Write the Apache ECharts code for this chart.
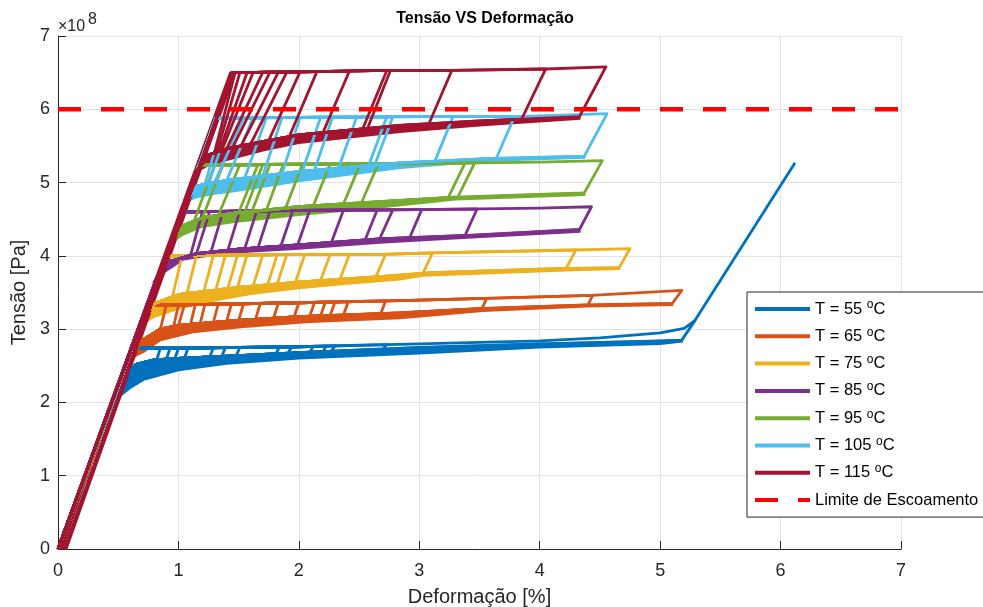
<!DOCTYPE html>
<html><head><meta charset="utf-8">
<script src="https://cdn.jsdelivr.net/npm/echarts@6/dist/echarts.min.js"></script>
<style>html,body{margin:0;padding:0;background:#fff}#c{width:983px;height:607px}</style>
</head><body><div id="c"></div>
<script>
// ---- data (strain in %, stress in 1e8 Pa) ----
const tempLabels = ['T = 55 °C','T = 65 °C','T = 75 °C','T = 85 °C','T = 95 °C','T = 105 °C','T = 115 °C'];
const yieldLabel = 'Limite de Escoamento';
const yieldLine = [[0, 6], [7, 6]];
const unloadEnd = [0.06, 0];

const bandTop55 = [[0.47,2.03],[0.55,2.35],[0.65,2.52],[0.8,2.58],[1.0,2.6],[1.5,2.64],[2.0,2.68],[3.0,2.75],[4.0,2.8],[5.0,2.84],[5.18,2.85]];
const bandBottom55 = [[0.47,2.03],[0.6,2.2],[0.71,2.31],[1.0,2.44],[1.4,2.53],[2.0,2.6],[3.0,2.67],[4.0,2.75],[5.0,2.8],[5.18,2.83]];
const upper55 = [[0.61,2.74],[1.0,2.74],[2.0,2.76],[3.0,2.8],[4.0,2.84],[4.5,2.88],[5.0,2.95],[5.2,3.01],[5.29,3.12]];
const cycles55 = [[0.82,0.85],[0.9,0.93],[0.97,1.0],[1.05,1.08],[1.26,1.29],[1.36,1.39],[1.48,1.51],[1.81,1.84],[1.91,1.94],[2.09,2.12],[2.2,2.23],[2.27,2.3],[2.7,2.73],[5.18,5.29]];
const tail55 = [[5.29,3.12],[6.12,5.27]];

const bandTop65 = [[0.6,2.6],[0.7,2.85],[0.85,3.0],[1.0,3.05],[1.5,3.12],[2.0,3.17],[2.84,3.22],[3.5,3.28],[4.4,3.33],[5.1,3.35]];
const bandBottom65 = [[0.6,2.6],[0.71,2.69],[0.85,2.85],[1.12,2.96],[1.54,3.03],[2.09,3.1],[2.84,3.15],[3.53,3.25],[4.39,3.31],[5.1,3.33]];
const upper65 = [[0.74,3.33],[1.0,3.33],[2.0,3.36],[2.84,3.39],[3.55,3.42],[4.43,3.46],[5.18,3.53]];
const cycles65 = [[0.86,0.9],[0.96,1.0],[1.01,1.05],[1.1,1.14],[1.18,1.22],[1.29,1.33],[1.4,1.44],[1.5,1.54],[1.64,1.68],[1.79,1.83],[1.96,2.0],[2.09,2.13],[2.18,2.22],[2.26,2.3],[2.37,2.41],[2.68,2.72],[3.52,3.56],[4.4,4.44],[5.1,5.18]];

const bandTop75 = [[0.68,3.05],[0.8,3.35],[1.0,3.47],[1.5,3.57],[2.0,3.64],[2.7,3.72],[3.1,3.77],[4.2,3.83],[4.66,3.84]];
const bandBottom75 = [[0.68,3.05],[0.8,3.17],[1.0,3.28],[1.2,3.36],[1.6,3.48],[2.0,3.56],[2.4,3.62],[2.84,3.68],[3.03,3.73],[4.22,3.8],[4.66,3.82]];
const upper75 = [[0.9,4.0],[2.0,4.02],[2.7,4.02],[3.11,4.04],[4.3,4.08],[4.75,4.1]];
const cycles75 = [[0.95,1.03],[1.07,1.15],[1.21,1.29],[1.31,1.39],[1.41,1.49],[1.49,1.57],[1.62,1.7],[1.74,1.82],[1.82,1.9],[1.97,2.05],[2.18,2.26],[2.34,2.42],[2.64,2.72],[3.03,3.11],[4.22,4.3],[4.66,4.75]];

const bandTop85 = [[0.82,3.7],[0.92,3.92],[1.15,4.03],[1.5,4.09],[2.0,4.15],[2.67,4.23],[3.4,4.28],[4.33,4.36]];
const bandBottom85 = [[0.82,3.7],[0.9,3.8],[1.04,3.95],[1.4,4.04],[2.0,4.1],[2.67,4.18],[3.4,4.25],[4.33,4.33]];
const upper85 = [[1.03,4.6],[2.0,4.62],[3.0,4.63],[4.0,4.65],[4.43,4.67]];
const cycles85 = [[1.1,1.2],[1.16,1.26],[1.27,1.37],[1.41,1.51],[1.55,1.65],[1.66,1.76],[1.85,1.95],[1.99,2.09],[2.27,2.37],[2.55,2.65],[2.68,2.78],[2.92,3.02],[3.38,3.48],[4.33,4.43]];

const bandTop95 = [[0.95,4.2],[1.05,4.42],[1.2,4.52],[1.45,4.58],[2.0,4.67],[2.67,4.74],[3.3,4.8],[4.37,4.86]];
const bandBottom95 = [[0.95,4.2],[1.05,4.3],[1.2,4.4],[1.45,4.46],[2.0,4.56],[2.67,4.66],[3.3,4.77],[4.37,4.83]];
const upper95 = [[1.17,5.24],[2.0,5.25],[3.0,5.26],[4.0,5.28],[4.52,5.3]];
const cycles95 = [[1.13,1.3],[1.2,1.37],[1.33,1.51],[1.5,1.66],[1.55,1.7],[1.61,1.76],[1.73,1.87],[1.89,2.03],[2.12,2.26],[2.37,2.51],[2.52,2.66],[3.24,3.38],[3.32,3.46],[4.37,4.52]];

const bandTop105 = [[1.07,4.75],[1.15,4.95],[1.3,5.0],[1.45,5.04],[2.0,5.15],[2.84,5.27],[3.6,5.33],[4.37,5.36]];
const bandBottom105 = [[1.07,4.75],[1.15,4.8],[1.3,4.85],[1.45,4.88],[2.0,5.02],[2.84,5.2],[3.6,5.3],[4.37,5.34]];
const upper105 = [[1.31,5.88],[2.0,5.89],[3.0,5.9],[3.8,5.9],[4.56,5.94]];
const cycles105 = [[1.22,1.38],[1.25,1.44],[1.3,1.54],[1.4,1.62],[1.55,1.73],[1.7,1.86],[1.86,2.01],[2.03,2.18],[2.13,2.28],[2.33,2.48],[2.58,2.73],[2.63,2.78],[3.13,3.28],[3.64,3.79],[4.37,4.56]];

const bandTop115 = [[1.15,5.15],[1.25,5.38],[1.4,5.46],[1.7,5.56],[2.0,5.65],[2.84,5.78],[3.5,5.84],[4.33,5.9]];
const bandBottom115 = [[1.15,5.15],[1.25,5.24],[1.4,5.31],[1.7,5.44],[2.0,5.54],[2.84,5.69],[3.5,5.78],[4.33,5.87]];
const upper115 = [[1.45,6.5],[2.0,6.51],[2.73,6.53],[3.27,6.53],[4.05,6.55],[4.55,6.58]];
const cycles115 = [[1.3,1.47],[1.32,1.51],[1.34,1.57],[1.36,1.62],[1.4,1.7],[1.45,1.76],[1.52,1.83],[1.6,1.9],[1.75,2.01],[1.92,2.15],[2.2,2.42],[2.53,2.73],[2.57,2.76],[3.08,3.27],[3.85,4.05],[4.33,4.55]];
const elastic115 = [[0,0],[1.43,6.5],[1.47,6.5],[0.07,0]];

// ---- styles ----
const colors = ['#0072BD','#D95319','#EDB120','#7E2F8E','#77AC30','#4DBEEE','#A2142F'];
const FONT = '"Liberation Sans", Arial, Helvetica, sans-serif';

const groups = [
  {top: bandTop55, bottom: bandBottom55, upper: upper55, cycles: cycles55, lines: [tail55], polys: []},
  {top: bandTop65, bottom: bandBottom65, upper: upper65, cycles: cycles65, lines: [], polys: []},
  {top: bandTop75, bottom: bandBottom75, upper: upper75, cycles: cycles75, lines: [], polys: []},
  {top: bandTop85, bottom: bandBottom85, upper: upper85, cycles: cycles85, lines: [], polys: []},
  {top: bandTop95, bottom: bandBottom95, upper: upper95, cycles: cycles95, lines: [], polys: []},
  {top: bandTop105, bottom: bandBottom105, upper: upper105, cycles: cycles105, lines: [], polys: []},
  {top: bandTop115, bottom: bandBottom115, upper: upper115, cycles: cycles115, lines: [], polys: [elastic115]}
];

function valueAt(poly, x) {
  if (x <= poly[0][0]) return poly[0][1];
  for (let i = 1; i < poly.length; i++) {
    if (x <= poly[i][0]) {
      const p = poly[i-1], q = poly[i];
      return p[1] + (q[1]-p[1]) * (x-p[0]) / (q[0]-p[0]);
    }
  }
  return poly[poly.length-1][1];
}
function cyclePath(g, a, b) {
  const pts = [[0,0]];
  g.top.forEach(p => { if (p[0] < a) pts.push(p); });
  pts.push([a, valueAt(g.top, a)]);
  pts.push([b, valueAt(g.upper, b)]);
  for (let i = g.upper.length-1; i >= 0; i--) if (g.upper[i][0] < b) pts.push(g.upper[i]);
  pts.push(unloadEnd);
  return pts;
}
function polySeries(points, color) {
  return {
    type: 'custom', silent: true, clip: true, data: [points[0]],
    renderItem: (params, api) => ({
      type: 'polygon',
      shape: {points: points.map(p => api.coord(p))},
      style: {fill: color, stroke: color, lineWidth: 2.2}
    })
  };
}
const LW = 2.8;
const series = [];
groups.forEach((g, k) => {
  const color = colors[k];
  g.cycles.forEach(c => {
    series.push({type: 'line', name: tempLabels[k], data: cyclePath(g, c[0], c[1]), symbol: 'none',
      silent: true, animation: false, lineStyle: {color: color, width: LW, join: 'round'}, itemStyle: {color: color}});
  });
  series.push(polySeries(g.top.concat(g.bottom.slice().reverse()), color));
  g.lines.forEach(l => series.push({type: 'line', name: tempLabels[k], data: l, symbol: 'none', silent: true,
    animation: false, lineStyle: {color: color, width: LW}, itemStyle: {color: color}}));
  g.polys.forEach(p => series.push(polySeries(p, color)));
});
series.push({type: 'line', name: yieldLabel, data: yieldLine, symbol: 'none', silent: true, animation: false,
  lineStyle: {color: '#FF0000', width: 4.5, type: [23, 20]}, itemStyle: {color: '#FF0000'}});

const chart = echarts.init(document.getElementById('c'));
chart.setOption({
  animation: false,
  backgroundColor: '#fff',
  title: {text: 'Tensão VS Deformação', left: 480, top: 6, textAlign: 'center',
    textStyle: {fontFamily: FONT, fontSize: 16, fontWeight: 'bold', color: '#000'}},
  grid: {left: 58, right: 82, top: 36, bottom: 58, containLabel: false, outerBoundsMode: 'none'},
  xAxis: {type: 'value', min: 0, max: 7, interval: 1,
    name: 'Deformação [%]', nameLocation: 'middle', nameGap: 38,
    nameTextStyle: {fontFamily: FONT, fontSize: 20, color: '#262626'},
    axisLine: {show: true, onZero: false, lineStyle: {color: '#262626', width: 1}},
    axisTick: {show: true, inside: true, length: 8, lineStyle: {color: '#262626'}},
    axisLabel: {fontFamily: FONT, fontSize: 18, color: '#262626', margin: 13},
    splitLine: {show: true, lineStyle: {color: '#e3e3e3', width: 1}}},
  yAxis: {type: 'value', min: 0, max: 7, interval: 1,
    name: 'Tensão [Pa]', nameLocation: 'middle', nameGap: 22, nameRotate: 90,
    nameTextStyle: {fontFamily: FONT, fontSize: 20, color: '#262626'},
    axisLine: {show: true, onZero: false, lineStyle: {color: '#262626', width: 1}},
    axisTick: {show: true, inside: true, length: 8, lineStyle: {color: '#262626'}},
    axisLabel: {fontFamily: FONT, fontSize: 18, color: '#262626', margin: 8},
    splitLine: {show: true, lineStyle: {color: '#e3e3e3', width: 1}}},
  legend: {
    data: tempLabels.concat([yieldLabel]),
    orient: 'vertical', left: 747, top: 292,
    padding: [7, 12, 7, 6], itemGap: 7.3, itemWidth: 55, itemHeight: 14,
    backgroundColor: '#fff', borderColor: '#262626', borderWidth: 1, borderRadius: 0,
    selectedMode: false,
    itemStyle: {opacity: 0},
    lineStyle: {width: 4},
    formatter: n => n.indexOf('°') >= 0 ? n.replace(' °C', ' {sup|o}C') : n,
    textStyle: {fontFamily: FONT, fontSize: 16.5, color: '#000', lineHeight: 20,
      rich: {sup: {fontFamily: FONT, fontSize: 12, lineHeight: 10, verticalAlign: 'top', color: '#000'}}}
  },
  graphic: [
    {type: 'text', left: 58, top: 19, style: {text: '×10', fontFamily: FONT, fontSize: 16, fill: '#262626'}},
    {type: 'text', left: 88, top: 12, style: {text: '8', fontFamily: FONT, fontSize: 16, fill: '#262626'}}
  ],
  series: series
});
</script></body></html>
